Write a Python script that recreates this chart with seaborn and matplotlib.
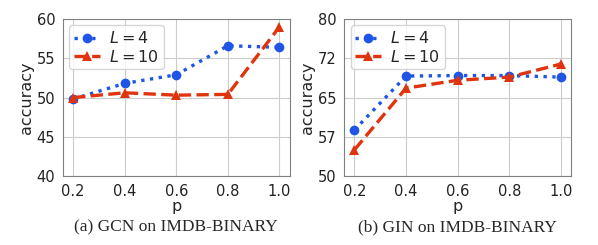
import numpy as np
import pandas as pd
import matplotlib.pyplot as plt
import seaborn as sns
from matplotlib.ticker import FormatStrFormatter

p = [0.2, 0.4, 0.6, 0.8, 1.0]
gcn_l4 = [49.8, 51.8, 52.9, 56.6, 56.4]
gcn_l10 = [50.0, 50.6, 50.3, 50.4, 59.0]
gin_l4 = [58.8, 69.1, 69.2, 69.2, 68.9]
gin_l10 = [55.0, 66.8, 68.3, 68.9, 71.4]

sns.set_style("whitegrid")
plt.rcParams['font.family'] = ['DejaVu Sans']

blue = "#1f55e6"
red = "#e0340f"


def panel(ax, l4, l10, ylim, caption):
    df = pd.DataFrame({"p": p * 2, "accuracy": l4 + l10,
                       "L": ["$L=4$"] * 5 + ["$L=10$"] * 5})
    sns.lineplot(data=df[df.L == "$L=4$"], x="p", y="accuracy", ax=ax,
                 color=blue, linestyle=":", linewidth=2.4, marker="o",
                 markersize=7, markeredgewidth=0, label="$L=4$")
    sns.lineplot(data=df[df.L == "$L=10$"], x="p", y="accuracy", ax=ax,
                 color=red, linestyle="--", linewidth=2.4, marker="^",
                 markersize=7, markeredgewidth=0, label="$L=10$",
                 dashes=(4, 1.5))
    ax.set_ylim(*ylim)
    ax.set_xlim(0.16, 1.04)
    ax.set_xticks(p)
    ax.set_yticks(np.linspace(ylim[0], ylim[1], 5))
    ax.yaxis.set_major_formatter(FormatStrFormatter('%d'))
    ax.tick_params(labelsize=10.5, pad=2, colors="#222222")
    ax.set_xlabel("p", fontsize=11.5, labelpad=0)
    ax.set_ylabel("accuracy", fontsize=11.5, labelpad=2)
    for s in ax.spines.values():
        s.set_color("#808080")
        s.set_linewidth(0.8)
    ax.legend(loc="upper left", fontsize=11.5, frameon=True,
              handlelength=1.6, borderpad=0.3, labelspacing=0.15,
              handletextpad=0.6, borderaxespad=0.4)
    ax.text(0.5, -0.28, caption, transform=ax.transAxes, ha="center",
            va="top", fontsize=12.5, family="Liberation Serif")


fig, axes = plt.subplots(1, 2, figsize=(5.98, 2.45), dpi=100)
plt.subplots_adjust(left=0.105, right=0.955, top=0.922, bottom=0.282, wspace=0.24)
panel(axes[0], gcn_l4, gcn_l10, (40, 60), "(a) GCN on IMDB-BINARY")
panel(axes[1], gin_l4, gin_l10, (50, 80), "(b) GIN on IMDB-BINARY")
fig.savefig("out.png", dpi=100)
